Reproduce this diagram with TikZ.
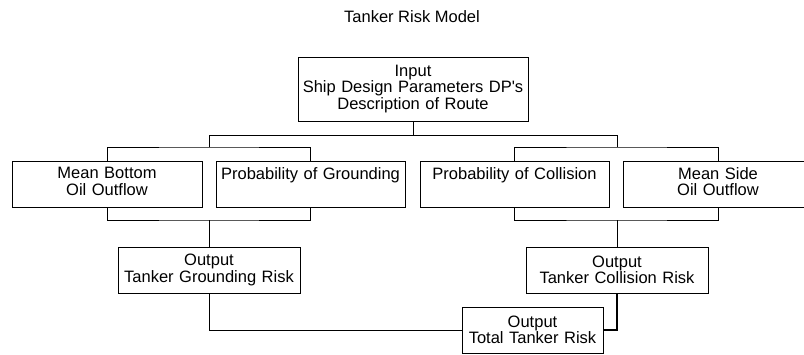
\documentclass[tikz,border=0pt]{standalone}
\usepackage{fontspec}
\setmainfont{Liberation Sans}
\usetikzlibrary{positioning}
\tikzset{
    % Define style for boxes
    block/.style={
           rectangle,
           draw=black, line width=0.8pt,
           inner sep=0pt,
           minimum height=46pt,
           font=\fontsize{16.5}{16.5}\selectfont,
           align=center,
           },
    % Define style for connectors
    link/.style={
           draw=black,
           line width=0.8pt,
           },
}
\begin{document}
\begin{tikzpicture}[x=1pt,y=-1pt]
\useasboundingbox (0,0) rectangle (804,354);
\node[font=\fontsize{16.5}{16.5}\selectfont](0) at (412,17){Tanker Risk Model};
\node[block, text width=230pt, minimum height=64pt](1) at (413,89){Input\\Ship Design Parameters DP\textquotesingle s\\Description of Route};
\node[block, text width=190pt](2) at (107,184){Mean Bottom\\Oil Outflow\strut};
\node[block, text width=189pt](3) at (310.5,184){Probability of Grounding\\\strut};
\node[block, text width=189pt](4) at (514.5,184){Probability of Collision\\\strut};
\node[block, text width=190pt](5) at (718,184){Mean Side\\Oil Outflow\strut};
\node[block, text width=182pt](6) at (209,270){Output\\Tanker Grounding Risk};
\node[block, text width=182pt](7) at (617,270){Output\\Tanker Collision Risk};
\node[block, text width=141pt](8) at (532.5,330){Output\\Total Tanker Risk};
% junctions
\coordinate (t) at (413,135);
\coordinate (tl) at (209,135);
\coordinate (tr) at (617,135);
\coordinate (gl) at (209,147);
\coordinate (gr) at (617,147);
\coordinate (hl) at (209,220);
\coordinate (hr) at (617,220);
\draw[link] (1.south) -- (t);
\draw[link] (tl) -- (tr);
\draw[link] (tl) -- (gl);
\draw[link] (tr) -- (gr);
\draw[link] (2.north) |- (gl) -| (3.north);
\draw[link] (4.north) |- (gr) -| (5.north);
\draw[link] (2.south) |- (hl) -| (3.south);
\draw[link] (4.south) |- (hr) -| (5.south);
\draw[link] (hl) -- (6.north);
\draw[link] (hr) -- (7.north);
\draw[link] (6.south) |- (8.west);
\draw[link, line width=1.6pt] (7.south) |- (8.east);
\end{tikzpicture}
\end{document}
